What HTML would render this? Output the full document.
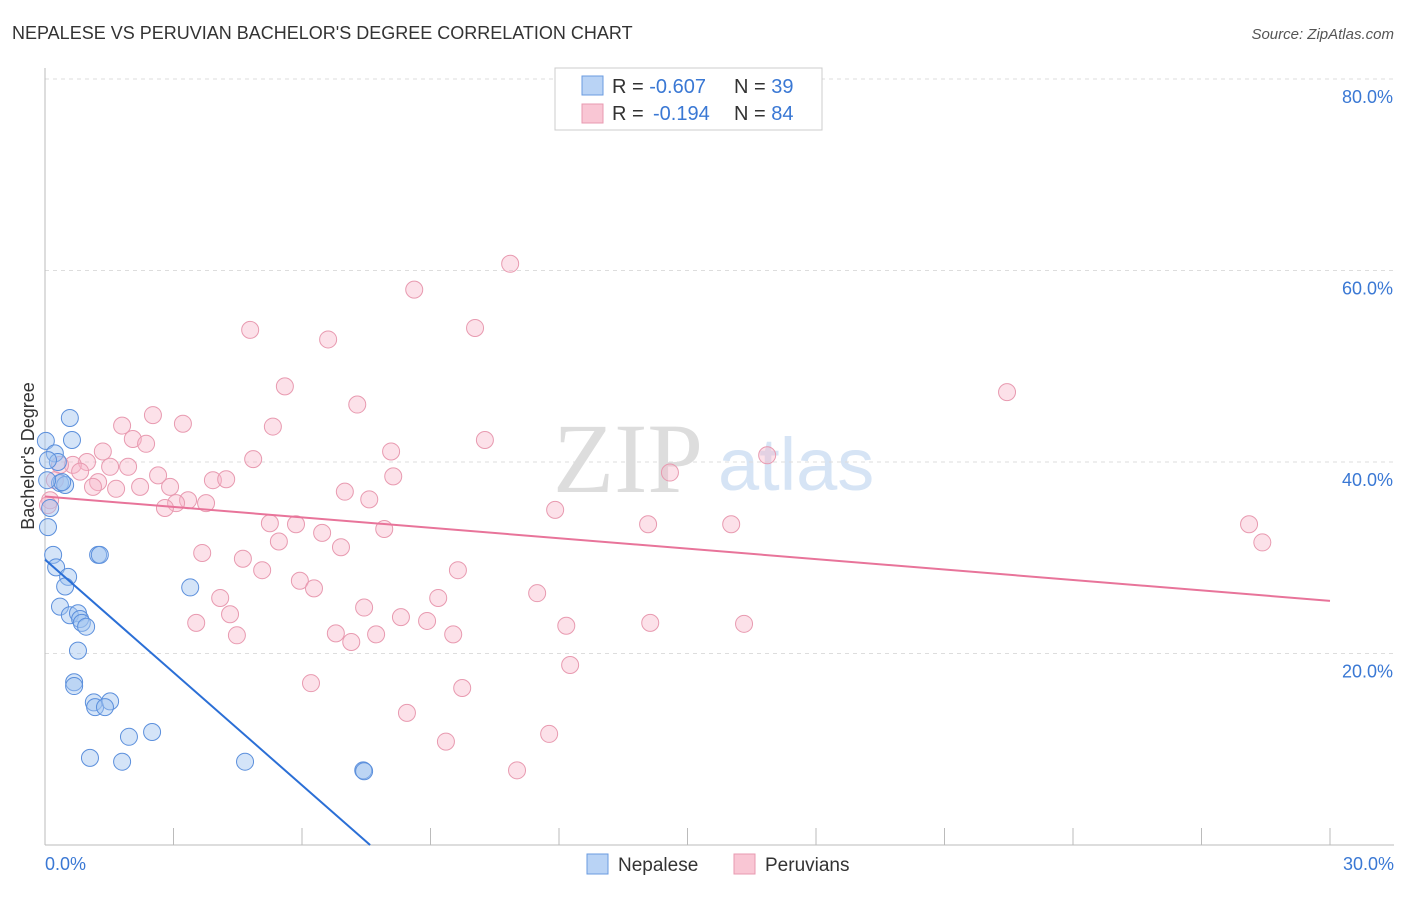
<!DOCTYPE html>
<html><head><meta charset="utf-8"><style>
body{margin:0;background:#fff;font-family:"Liberation Sans",sans-serif}
svg text{font-family:"Liberation Sans",sans-serif}
</style></head><body>
<svg id="c" width="1406" height="892">
<text x="12" y="39" font-size="18" fill="#333">NEPALESE VS PERUVIAN BACHELOR'S DEGREE CORRELATION CHART</text>
<text x="1394" y="39" font-size="15" fill="#555" font-style="italic" text-anchor="end">Source: ZipAtlas.com</text>
<text x="553" y="492" font-size="100" fill="#ddd" style="font-family:'Liberation Serif',serif">ZIP</text>
<text x="718" y="490" font-size="74" fill="#d6e4f5">atlas</text>
<g id="grid"></g><g id="pts"></g><g id="lines"></g>
<text transform="translate(34,456) rotate(-90)" font-size="18" fill="#333" text-anchor="middle">Bachelor's Degree</text>
<text x="45" y="870" font-size="18" fill="#3a78d4">0.0%</text>
<text x="1394" y="870" font-size="18" fill="#3a78d4" text-anchor="end">30.0%</text>
<g>
<rect x="555" y="68" width="267" height="62" fill="#fff" stroke="#ccc"/>
<rect x="582" y="76" width="21" height="19" fill="#b9d3f5" stroke="#6a9be0"/>
<rect x="582" y="104" width="21" height="19" fill="#f9c6d4" stroke="#e89ab0"/>
<text x="612" y="93" font-size="20" fill="#333">R = <tspan fill="#3a78d4">-0.607</tspan><tspan x="734">N = </tspan><tspan fill="#3a78d4">39</tspan></text>
<text x="612" y="120" font-size="20" fill="#333">R = <tspan fill="#3a78d4" x="653">-0.194</tspan><tspan x="734">N = </tspan><tspan fill="#3a78d4">84</tspan></text>
</g>
<g>
<rect x="587" y="854" width="21" height="20" fill="#b9d3f5" stroke="#6a9be0"/>
<text x="618" y="871" font-size="19" fill="#333">Nepalese</text>
<rect x="734" y="854" width="21" height="20" fill="#f9c6d4" stroke="#e89ab0"/>
<text x="765" y="871" font-size="19" fill="#333">Peruvians</text>
</g>
</svg>
<script>
const yTicks=[20,40,60,80];
const xTicks=[0,3,6,9,12,15,18,21,24,27,30];
const nepX=[.02,.58,.63,.23,.30,.35,.47,.12,.07,.19,.26,.54,.47,1.24,1.28,3.39,.35,.58,.77,.82,.86,.96,.77,.68,.68,1.14,1.17,1.52,1.40,1.96,2.50,1.05,1.80,4.67,7.43,7.45,.07,.40,.05];
const nepY=[42.2,44.6,42.3,40.9,40.0,37.8,37.6,35.2,33.2,30.3,29.0,28.0,27.0,30.3,30.3,26.9,24.9,24.0,24.2,23.6,23.2,22.8,20.3,17.0,16.6,14.9,14.4,15.0,14.4,11.3,11.8,9.1,8.7,8.7,7.8,7.7,40.2,37.9,38.1];
const perX=[10.86,8.62,4.79,10.04,6.61,5.60,7.29,2.52,3.22,1.80,5.32,2.05,2.36,10.27,8.08,1.35,4.86,.98,.65,1.52,1.94,.35,.82,2.64,3.92,4.23,1.24,1.12,1.66,2.22,2.92,7.00,7.57,3.34,3.06,3.76,2.80,8.13,11.91,5.25,5.86,6.47,7.92,14.08,16.02,6.91,5.46,3.67,4.62,5.07,9.64,5.95,6.28,4.09,9.18,11.49,4.32,7.45,8.31,8.92,3.53,12.17,14.13,16.32,6.79,4.48,7.73,9.53,7.15,12.26,6.21,9.74,8.45,9.36,11.77,11.02,14.59,16.86,22.46,28.11,28.42,.23,.12,.07];
const perY=[60.7,58.0,53.8,54.0,52.8,47.9,46.0,44.9,44.0,43.8,43.7,42.4,41.9,42.3,41.1,41.1,40.3,40.0,39.7,39.5,39.5,39.7,39.0,38.6,38.1,38.2,37.9,37.4,37.2,37.4,37.4,36.9,36.1,36.0,35.7,35.7,35.2,38.5,35.0,33.6,33.5,32.6,33.0,33.5,33.5,31.1,31.7,30.5,29.9,28.7,28.7,27.6,26.8,25.8,25.8,26.3,24.1,24.8,23.8,23.4,23.2,22.9,23.2,23.1,22.1,21.9,22.0,22.0,21.2,18.8,16.9,16.4,13.8,10.8,11.6,7.8,38.9,40.7,47.3,33.5,31.6,38.1,36.0,35.5];
const nepLine=[0,29.8,7.59,0];
const perLine=[0,36.4,30,25.5];
const X=v=>45+v*1285/30, Y=v=>845-v*766/80;
const NS='http://www.w3.org/2000/svg';
function mk(tag,attrs,parent){const e=document.createElementNS(NS,tag);for(const k in attrs)e.setAttribute(k,attrs[k]);document.getElementById(parent).appendChild(e);return e;}
yTicks.forEach(t=>{
 const l=mk('line',{x1:45,x2:1394,y1:Y(t),y2:Y(t),stroke:'#ddd','stroke-dasharray':'4,4'},'grid');
 
 
 const tx=mk('text',{x:1393,y:Y(t)+24,'font-size':18,fill:'#3a78d4','text-anchor':'end'},'grid');
 tx.textContent=t.toFixed(1)+'%';
 
 
});
const ax=mk('line',{x1:45,x2:1394,y1:845,y2:845,stroke:'#bbb'},'grid');


const ay=mk('line',{x1:45,x2:45,y1:68,y2:845,stroke:'#bbb'},'grid');


xTicks.forEach(t=>{
 const l=mk('line',{x1:X(t),x2:X(t),y1:828,y2:845,stroke:'#bbb'},'grid');
 
 
});
perX.forEach((v,i)=>{
 const c=mk('circle',{cx:X(v),cy:Y(perY[i]),r:8.5,fill:'rgba(248,180,200,0.4)',stroke:'#e89ab0','stroke-width':1},'pts');
 
 
});
nepX.forEach((v,i)=>{
 const c=mk('circle',{cx:X(v),cy:Y(nepY[i]),r:8.5,fill:'rgba(160,195,240,0.45)',stroke:'#5b8fdc','stroke-width':1},'pts');
 
 
});
const l1=mk('line',{x1:X(perLine[0]),y1:Y(perLine[1]),x2:X(perLine[2]),y2:Y(perLine[3]),stroke:'#e8749a','stroke-width':2},'lines');


const l2=mk('line',{x1:X(nepLine[0]),y1:Y(nepLine[1]),x2:X(nepLine[2]),y2:Y(nepLine[3]),stroke:'#2b6fd6','stroke-width':2},'lines');


</script>
</body></html>
